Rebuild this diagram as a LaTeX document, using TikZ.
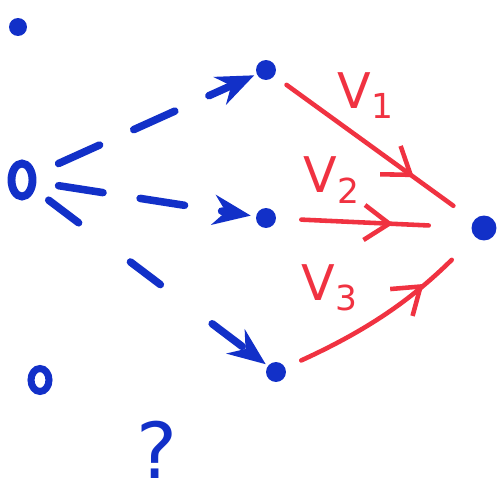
\documentclass[tikz,border=0pt]{standalone}
\usepackage{xcolor}
\usepackage{fontspec}
\setsansfont{DejaVu Sans}
\usetikzlibrary{arrows.meta,decorations.markings,positioning,shapes.geometric}
\definecolor{penblue}{RGB}{18,48,200}
\definecolor{penred}{RGB}{240,50,65}

\begin{document}
\begin{tikzpicture}[x=0.02cm, y=-0.02cm,
  dot/.style={circle, fill=penblue, inner sep=0pt, minimum size=0.4cm},
  ring/.style={ellipse, draw=penblue, line width=4.5pt, inner sep=0pt,
               minimum width=0.42cm, minimum height=0.66cm},
  guess/.style={draw=penblue, line width=4.3pt, dash pattern=on 0.9cm off 0.75cm,
                -{Stealth[length=0.75cm, width=0.6cm]}, line cap=round},
  flow/.style={draw=penred, line width=2.6pt, line cap=round,
               decoration={markings, mark=at position #1 with
                 {\arrow[line width=2.6pt]{Straight Barb[length=0.5cm, width=0.7cm]}}},
               postaction={decorate}},
  lbl/.style={text=penred, font=\sffamily\fontsize{28}{28}\selectfont},
  >=stealth
]
\useasboundingbox (0,0) rectangle (498,497);

% left side
\node[dot, minimum size=0.36cm] (top)  at (18,27)  {};
\node[ring] (src)   at (22,180) {};
\node[ring, line width=4pt, minimum height=0.46cm, minimum width=0.36cm] (low) at (40,380) {};
\node[text=penblue, font=\sffamily\fontsize{44}{44}\selectfont] (what) at (157,450) {?};

% middle and target
\node[dot] (a) at (266,70)  {};
\node[dot] (b) at (266,218) {};
\node[dot] (c) at (276,372) {};
\node[dot, minimum size=0.5cm] (t) at (484,228) {};

\draw[guess, shorten <=0.5cm, shorten >=0.05cm] (src) -- (a);
\draw[guess, shorten <=0.45cm, shorten >=0.1cm] (src) -- (b);
\draw[guess, dash pattern=on 0.75cm off 1.3cm, shorten <=0.35cm, shorten >=0.05cm] (src) -- (c);

\draw[flow=0.7, shorten <=0.3cm, shorten >=0.5cm] (a) -- (t);
\draw[flow=0.6, shorten <=0.5cm, shorten >=0.85cm] (b) -- (t);
\draw[flow=0.7, shorten <=0.35cm, shorten >=0.65cm] (c) to[bend right=10] (t);

\node[lbl] (v1) at (366,96) {V\textsubscript{1}};
\node[lbl] (v2) at (332,180) {V\textsubscript{2}};
\node[lbl] (v3) at (330,288) {V\textsubscript{3}};
\end{tikzpicture}
\end{document}
